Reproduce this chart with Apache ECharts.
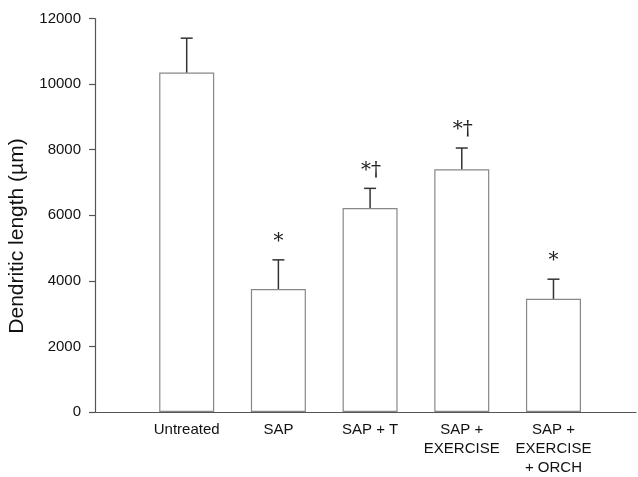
<!DOCTYPE html>
<html>
<head>
<meta charset="utf-8">
<script src="https://cdn.jsdelivr.net/npm/echarts@6/dist/echarts.min.js"></script>
<style>html,body{margin:0;padding:0;background:#fff}#c{width:638px;height:477px}</style>
</head>
<body>
<div id="c"></div>
<script>
var categories = ['Untreated', 'SAP', 'SAP + T', 'SAP +\nEXERCISE', 'SAP +\nEXERCISE\n+ ORCH'];
var means = [10350, 3750, 6220, 7400, 3450];
var errors = [1050, 890, 600, 650, 600];
var marks = ['', '*', '*\u2020', '*\u2020', '*'];
var yTicks = [0, 2000, 4000, 6000, 8000, 10000, 12000];

var chart = echarts.init(document.getElementById('c'));
var barData = means.map(function (v, i) { return [i + 1, v]; });
var errData = means.map(function (v, i) { return [i + 1, v, v + errors[i], marks[i]]; });

chart.setOption({
  animation: false,
  backgroundColor: '#fff',
  grid: { left: 95, right: 2, top: 18.5, bottom: 61 },
  xAxis: {
    type: 'value', min: 0, max: 5.9, interval: 1,
    splitLine: { show: false },
    axisTick: { show: false },
    axisLine: { lineStyle: { color: '#555', width: 1.2 } },
    axisLabel: {
      showMaxLabel: false,
      margin: 8,
      color: '#111',
      fontFamily: 'Liberation Sans, Arial',
      fontSize: 15,
      lineHeight: 19,
      verticalAlign: 'top',
      formatter: function (v) {
        var i = Math.round(v);
        if (Math.abs(v - i) > 1e-6 || i < 1 || i > categories.length) return '';
        return categories[i - 1];
      }
    }
  },
  yAxis: {
    type: 'value', min: yTicks[0], max: yTicks[yTicks.length - 1], interval: 2000,
    splitLine: { show: false },
    axisLine: { show: true, lineStyle: { color: '#555', width: 1.2 } },
    axisTick: { show: true, length: 6, lineStyle: { color: '#555', width: 1.2 } },
    axisLabel: { margin: 14, color: '#111', fontFamily: 'Liberation Sans, Arial', fontSize: 15,
      formatter: function (v) { return String(v); } }
  },
  graphic: [{
    type: 'text', x: 17, y: 236, rotation: Math.PI / 2,
    style: {
      text: 'Dendritic length (\u00b5m)', fill: '#111',
      font: '21px "Liberation Sans", Arial', align: 'center', verticalAlign: 'middle'
    }
  }],
  series: [{
    type: 'bar',
    data: barData,
    barWidth: 55,
    itemStyle: { color: '#fff', borderColor: '#888', borderWidth: 1.2 },
    z: 2
  }, {
    type: 'custom',
    data: errData,
    z: 3,
    renderItem: function (params, api) {
      var x = api.value(0);
      var top = api.coord([x, api.value(1)]);
      var hi = api.coord([x, api.value(2)]);
      var txt = marks[params.dataIndex];
      var children = [
        { type: 'line', shape: { x1: top[0], y1: top[1], x2: hi[0], y2: hi[1] }, style: { stroke: '#333', lineWidth: 1.5 } },
        { type: 'line', shape: { x1: hi[0] - 6, y1: hi[1], x2: hi[0] + 6, y2: hi[1] }, style: { stroke: '#333', lineWidth: 1.5 } }
      ];
      if (txt) {
        children.push({ type: 'text', x: hi[0] + (txt.length > 1 ? 1 : 0), y: hi[1] - 18,
          style: { text: txt, fill: '#222', font: '20px "DejaVu Serif", serif', align: 'center', verticalAlign: 'middle' } });
      }
      return { type: 'group', children: children };
    }
  }]
});
</script>
</body>
</html>
